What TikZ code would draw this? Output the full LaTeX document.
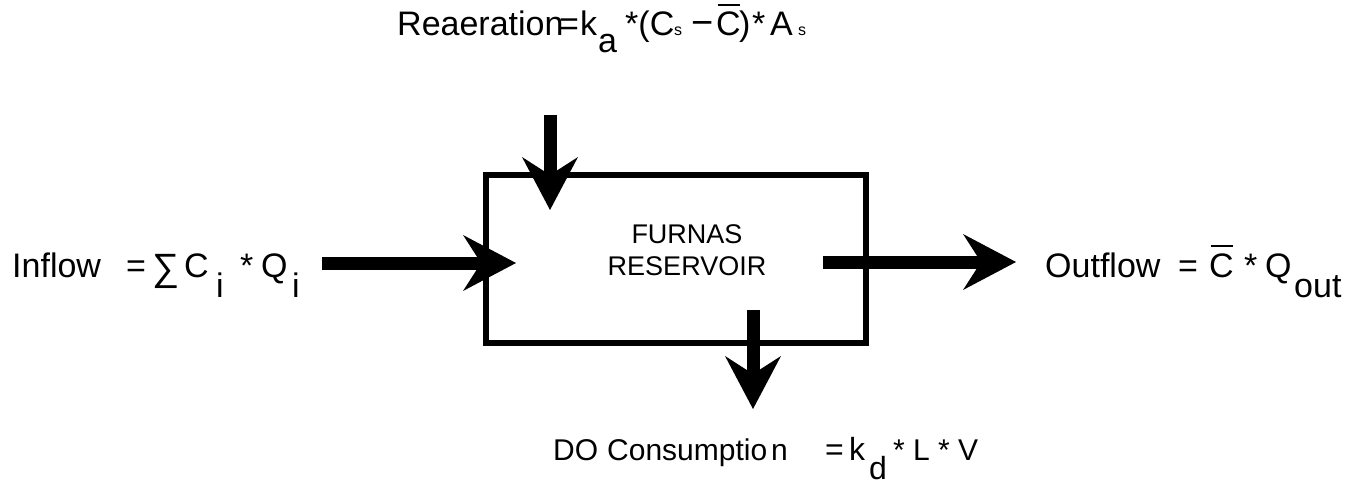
\documentclass[tikz,border=0pt]{standalone}
\usepackage{fontspec}
\setmainfont{Liberation Sans}
\usetikzlibrary{arrows.meta}
\newcommand\cbar{\leavevmode\rlap{\kern1.5pt\rule[30pt]{22pt}{1.8pt}}C}
\begin{document}
\begin{tikzpicture}[x=1pt,y=-1pt,
  txt/.style={anchor=base west,inner sep=0pt,font=\fontsize{34}{40}\selectfont},
  smalltxt/.style={anchor=base west,inner sep=0pt,font=\fontsize{16}{18}\selectfont},
  bottxt/.style={anchor=base west,inner sep=0pt,font=\fontsize{30}{36}\selectfont},
  flow/.style={line width=13pt,-{Stealth[length=53pt,width=56pt,inset=18pt,line width=0pt]}},
  boxstyle/.style={draw,line width=6pt,minimum width=380pt,minimum height=168pt,inner sep=0pt}]
\useasboundingbox (0,0) rectangle (1353,484);
% reservoir box
\node[boxstyle] (res) at (676,259) {};
\node[align=center,inner sep=0pt,font=\fontsize{27}{32}\selectfont] (lab) at (687,250) {FURNAS\\RESERVOIR};
% top formula
\node[txt] (rea) at (397,36) {Reaeration};
\node[txt] (reaeq) at (559,36) {=};
\node[txt] (k) at (580,36) {k};
\node[txt] (ka) at (598,53) {a};
\node[txt] (rst) at (625,36) {*(C};
\node[smalltxt] (cs) at (674,36) {s};
\node[txt,font=\fontsize{38}{40}\selectfont] (minus) at (691,36) {\symbol{"2212}};
\node[txt] (cbt) at (716,36) {\cbar};
\node[txt] (par) at (739,36) {)};
\node[txt] (rst2) at (752,36) {*};
\node[txt] (aa) at (770,36) {A};
\node[smalltxt] (as) at (798,36) {s};
% inflow
\node[txt] (inflow) at (12,277) {Inflow};
\node[txt] (ineq) at (126,277) {=};
\node[txt,font=\fontsize{38}{42}\selectfont] (sum) at (152,280) {∑};
\node[txt] (ci) at (184,277) {C};
\node[txt] (ci2) at (216,297) {i};
\node[txt] (ist) at (240,277) {*};
\node[txt] (qi) at (261,277) {Q};
\node[txt] (qi2) at (292,297) {i};
% outflow
\node[txt] (outflow) at (1045,277) {Outflow};
\node[txt] (outeq) at (1178,277) {=};
\node[txt] (cb) at (1209,277) {\cbar};
\node[txt] (ost) at (1244,277) {*};
\node[txt] (qo) at (1265,277) {Q};
\node[txt] (qout) at (1294,297) {out};
% bottom
\node[bottxt] (do) at (553,460) {DO};
\node[bottxt] (cons) at (607,460) {Consumptio};
\node[bottxt] (consn) at (771,460) {n};
\node[bottxt,font=\fontsize{32}{36}\selectfont] (deq) at (825,460) {=};
\node[bottxt,font=\fontsize{32}{36}\selectfont] (kd) at (849,460) {k};
\node[bottxt,font=\fontsize{32}{36}\selectfont] (kd2) at (869,479) {d};
\node[bottxt] (dst) at (893,460) {* L * V};
% arrows
\coordinate (topS) at (550,115);
\coordinate (topE) at (550,210);
\coordinate (inS) at (322,263);
\coordinate (inE) at (516,263);
\coordinate (outS) at (823,262);
\coordinate (outE) at (1016,262);
\coordinate (botS) at (753,310);
\coordinate (botE) at (753,409);
\draw[flow] (topS) -- (topE);
\draw[flow] (inS) -- (inE);
\draw[flow] (outS) -- (outE);
\draw[flow] (botS) -- (botE);
\end{tikzpicture}
\end{document}
